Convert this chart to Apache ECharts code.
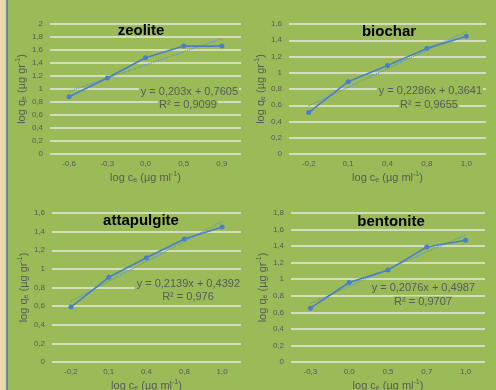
<!DOCTYPE html>
<html>
<head>
<meta charset="utf-8">
<script src="https://cdn.jsdelivr.net/npm/echarts@6/dist/echarts.min.js"></script>
<style>
  html, body {
    margin: 0;
    padding: 0;
    width: 496px;
    height: 390px;
    overflow: hidden;
    /* beige strip + thin border on the left, green sheet after */
    background: linear-gradient(to right, #ecdcb0 0px, #e8d6a6 6px, #6d84a0 6px, #6d84a0 8px, #9bbb59 8px);
  }
  #chart {
    width: 496px;
    height: 390px;
  }
</style>
</head>
<body>
<div id="chart"></div>
<script>
  // panel titles
  const titles = ["zeolite", "biochar", "attapulgite", "bentonite"];

  // x categories (log ce)
  const xZeolite = ["-0,6", "-0,3", "0,0", "0,5", "0,9"];
  const xBiochar = ["-0,2", "0,1", "0,4", "0,8", "1,0"];
  const xAttapulgite = ["-0,2", "0,1", "0,4", "0,8", "1,0"];
  const xBentonite = ["-0,3", "0,0", "0,5", "0,7", "1,0"];

  // log qe values
  const qZeolite = [0.88, 1.17, 1.48, 1.66, 1.66];
  const qBiochar = [0.51, 0.89, 1.09, 1.30, 1.45];
  const qAttapulgite = [0.59, 0.91, 1.12, 1.32, 1.45];
  const qBentonite = [0.65, 0.96, 1.11, 1.39, 1.47];

  // linear trendlines as printed on the chart
  const slopes = [0.203, 0.2286, 0.2139, 0.2076];
  const intercepts = [0.7605, 0.3641, 0.4392, 0.4987];
  const r2 = ["0,9099", "0,9655", "0,976", "0,9707"];

  // y axis maximum per panel
  const yMax = [2, 1.6, 1.6, 1.8];

  const cats = [xZeolite, xBiochar, xAttapulgite, xBentonite];
  const vals = [qZeolite, qBiochar, qAttapulgite, qBentonite];

  // layout of the four panels (px)
  const panels = [
    { left: 50, right: 255, top: 24, bottom: 236, titleX: 141, titleY: 31, eqX: 239, eqY: 92, rX: 188, rY: 105, yGap: 22 },
    { left: 289, right: 10, top: 24, bottom: 236, titleX: 389, titleY: 32, eqX: 483, eqY: 91, rX: 429, rY: 105, yGap: 20 },
    { left: 52, right: 255, top: 213, bottom: 28, titleX: 141, titleY: 221, eqX: 241, eqY: 284, rX: 188, rY: 297, yGap: 20 },
    { left: 291, right: 11, top: 213, bottom: 28, titleX: 391, titleY: 222, eqX: 476, eqY: 288, rX: 423, rY: 302, yGap: 21 },
  ];

  const grey = "#595959";
  const green = "#9bbb59";
  const lineBlue = "#4a7fc8";
  const trendBlue = "#5a8fd0";
  const fontFam = "Liberation Sans, Arial, sans-serif";

  const fmt = (v) => String(v).replace(".", ",");

  const subRich = {
    n: { fontSize: 11, color: grey, fontFamily: fontFam },
    sub: { fontSize: 7, color: grey, fontFamily: fontFam, padding: [6, 0, 0, 0] },
    sup: { fontSize: 7, color: grey, fontFamily: fontFam, padding: [0, 0, 6, 0] },
  };

  let grid = [], xAxis = [], yAxis = [], series = [], graphic = [];

  panels.forEach(function (p, i) {
    grid.push({
      left: p.left, right: p.right, top: p.top, bottom: p.bottom,
      containLabel: false,
      outerBoundsMode: "none", // don't let v6 squeeze the grid for the cut-off name
    });

    xAxis.push({
      type: "category",
      gridIndex: i,
      data: cats[i],
      boundaryGap: true,
      axisLine: { show: false },
      axisTick: { show: false },
      axisLabel: { color: grey, fontSize: 8, margin: 6, fontFamily: fontFam },
      name: "{n|log c}{sub|e}{n| (µg ml}{sup|-1}{n|)}",
      nameLocation: "middle",
      nameGap: 17,
      nameTextStyle: { rich: subRich },
    });

    yAxis.push({
      type: "value",
      gridIndex: i,
      min: 0,
      max: yMax[i],
      interval: 0.2,
      axisLine: { show: false },
      axisTick: { show: false },
      axisLabel: { color: grey, fontSize: 8, margin: 7, fontFamily: fontFam, formatter: fmt },
      splitLine: { lineStyle: { color: "#e6e8df", width: 1.5 } },
      name: "{n|log q}{sub|e}{n| (µg gr}{sup|-1}{n|)}",
      nameLocation: "middle",
      nameRotate: 90,
      nameGap: p.yGap,
      nameTextStyle: { rich: subRich },
    });

    series.push({
      type: "line",
      xAxisIndex: i,
      yAxisIndex: i,
      data: vals[i],
      symbol: "circle",
      symbolSize: 5,
      color: lineBlue,
      lineStyle: { color: lineBlue, width: 1.6 },
      z: 3,
      animation: false,
    });

    // trendline from the printed equation, x = 1..5 as in the spreadsheet
    let trend = cats[i].map(function (c, k) {
      return +(slopes[i] * (k + 1) + intercepts[i]).toFixed(4);
    });
    series.push({
      type: "line",
      xAxisIndex: i,
      yAxisIndex: i,
      data: trend,
      symbol: "none",
      lineStyle: { color: trendBlue, width: 1.2, type: "dotted" },
      z: 2,
      animation: false,
    });

    graphic.push({
      type: "text",
      x: p.titleX,
      y: p.titleY,
      z: 10,
      style: {
        text: titles[i],
        fill: "#000",
        font: "bold 15px " + fontFam,
        textAlign: "center",
        textVerticalAlign: "middle",
      },
    });
    graphic.push({
      type: "text",
      x: p.eqX,
      y: p.eqY,
      z: 10,
      style: {
        text: "y = " + fmt(slopes[i]) + "x + " + fmt(intercepts[i]),
        fill: grey,
        font: "11px " + fontFam,
        textAlign: "right",
        textVerticalAlign: "middle",
        backgroundColor: green,
        padding: [0, 1, 0, 2],
      },
    });
    graphic.push({
      type: "text",
      x: p.rX,
      y: p.rY,
      z: 10,
      style: {
        text: "R² = " + r2[i],
        fill: grey,
        font: "11px " + fontFam,
        textAlign: "center",
        textVerticalAlign: "middle",
        backgroundColor: green,
        padding: [0, 1, 0, 1],
      },
    });
  });

  var chart = echarts.init(document.getElementById("chart"), null, { renderer: "canvas" });
  chart.setOption({
    backgroundColor: "transparent",
    animation: false,
    grid: grid,
    xAxis: xAxis,
    yAxis: yAxis,
    series: series,
    graphic: graphic,
  });
</script>
</body>
</html>
